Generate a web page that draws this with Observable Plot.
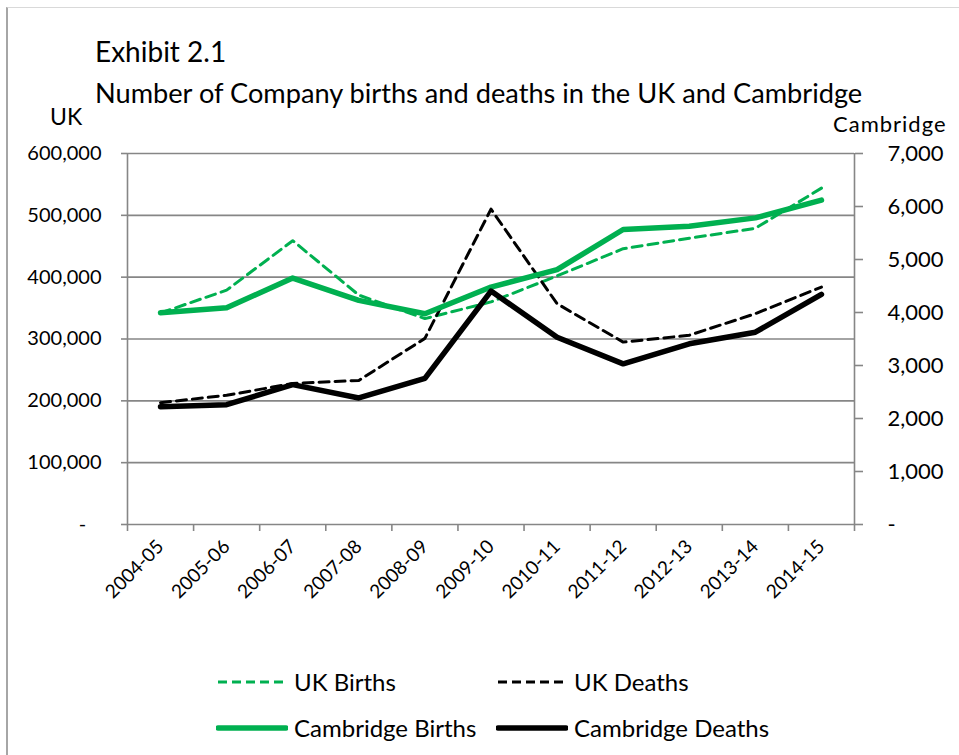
<!DOCTYPE html>
<html><head><meta charset="utf-8">
<script src="https://cdn.jsdelivr.net/npm/d3@7"></script>
<script src="https://cdn.jsdelivr.net/npm/@observablehq/plot@0.6"></script>
<style>
body{margin:0;background:#fff;font-family:Lato,"Open Sans",sans-serif;}
#wrap{position:relative;width:959px;height:755px;overflow:hidden;background:#fff;}
#frame{position:absolute;left:6px;top:7px;width:1000px;height:800px;border-left:2px solid #a6a6a6;border-top:1px solid #d9d9d9;}
.t{position:absolute;white-space:nowrap;line-height:1;color:#000;}
#chart{position:absolute;left:0;top:140px;}
.sw{position:absolute;width:72px;height:12px;}
</style></head><body>
<div id="wrap">
<div id="frame"></div>
<div class="t" style="left:95px;top:37px;font-size:28px">Exhibit 2.1</div>
<div class="t" style="left:95px;top:79px;font-size:27.2px">Number of Company births and deaths in the UK and Cambridge</div>
<div class="t" style="left:50px;top:105px;font-size:23px">UK</div>
<div class="t" style="left:833px;top:113px;font-size:22px;letter-spacing:1px">Cambridge</div>
<div id="chart"></div>
<div id="legend"></div>
</div>
<script>
const years = ["2004-05","2005-06","2006-07","2007-08","2008-09","2009-10","2010-11","2011-12","2012-13","2013-14","2014-15"];
const ukBirths = [342000,379000,459000,371000,333000,360000,402000,446000,463000,479000,544000];
const ukDeaths = [197000,209000,228000,233000,301000,510000,357000,295000,306000,341000,384000];
const camBirths = [3995,4090,4650,4228,3977,4480,4809,5566,5628,5785,6120];
const camDeaths = [2223,2261,2639,2387,2758,4404,3534,3031,3409,3628,4342];
const ukTicks = [0,100000,200000,300000,400000,500000,600000];
const camTicks = [0,1000,2000,3000,4000,5000,6000,7000];
const legendItems = [
  {label:"UK Births", color:"#00B050", width:3, dash:"9,5"},
  {label:"UK Deaths", color:"#000000", width:3, dash:"9,5"},
  {label:"Cambridge Births", color:"#00B050", width:5.5, dash:null},
  {label:"Cambridge Deaths", color:"#000000", width:5.5, dash:null}
];

const k = 600000 / 7000;
const idx = d3.range(years.length);
const bounds = d3.range(years.length + 1).map(i => i - 0.5);
const fmt = d3.format(",");
const grid = "#868686";

const plot = Plot.plot({
  width: 959, height: 500,
  marginTop: 13, marginBottom: 116, marginLeft: 127, marginRight: 105,
  style: {fontFamily: "Lato, sans-serif", background: "transparent", color: "#000"},
  x: {domain: [-0.5, years.length - 0.5]},
  y: {domain: [0, 600000]},
  marks: [
    Plot.ruleY(ukTicks, {stroke: grid, strokeWidth: 1.6}),
    Plot.ruleX([-0.5, years.length - 0.5], {stroke: grid, strokeWidth: 1.6}),
    Plot.axisY({ticks: ukTicks, tickSize: 6, tickPadding: 20, stroke: grid, strokeWidth: 1.6, fill: "#000", fontSize: 20, label: null,
      tickFormat: v => v === 0 ? "-\u00A0\u00A0\u00A0" : fmt(v)}),
    Plot.axisY({anchor: "right", ticks: camTicks.map(v => v * k), tickSize: 8, tickPadding: 25, stroke: grid, strokeWidth: 1.6, fill: "#000", fontSize: 22, label: null,
      style: {letterSpacing: "0.6px"},
      tickFormat: v => { const c = Math.round(v / k); return c === 0 ? "-" : fmt(c); }}),
    Plot.axisX({ticks: bounds, tickSize: 7, tickFormat: () => "", stroke: grid, strokeWidth: 1.6, label: null}),
    Plot.axisX({ticks: idx, tickSize: 0, tickPadding: 19, tickRotate: -45, tickFormat: i => years[i], fontSize: 19, fill: "#000", label: null}),
    Plot.lineY(idx, {x: i => i, y: i => ukBirths[i], stroke: "#00B050", strokeWidth: 3, strokeDasharray: "10,6"}),
    Plot.lineY(idx, {x: i => i, y: i => ukDeaths[i], stroke: "#000", strokeWidth: 3, strokeDasharray: "10,6"}),
    Plot.lineY(idx, {x: i => i, y: i => camBirths[i] * k, stroke: "#00B050", strokeWidth: 5.5}),
    Plot.lineY(idx, {x: i => i, y: i => camDeaths[i] * k, stroke: "#000", strokeWidth: 5.5})
  ]
});
document.getElementById("chart").appendChild(plot);

const legend = document.getElementById("legend");
const pos = [[216, 682], [496, 682], [216, 728], [496, 728]];
legendItems.forEach((it, i) => {
  const [lx, ly] = pos[i];
  const sw = document.createElementNS("http://www.w3.org/2000/svg", "svg");
  sw.setAttribute("class", "sw");
  sw.style.left = lx + "px"; sw.style.top = (ly - 6) + "px";
  sw.setAttribute("width", 72); sw.setAttribute("height", 12);
  const ln = document.createElementNS("http://www.w3.org/2000/svg", "line");
  ln.setAttribute("x1", 2); ln.setAttribute("x2", 70); ln.setAttribute("y1", 6); ln.setAttribute("y2", 6);
  ln.setAttribute("stroke", it.color); ln.setAttribute("stroke-width", it.width);
  ln.setAttribute("stroke-linecap", it.dash ? "butt" : "round");
  if (it.dash) ln.setAttribute("stroke-dasharray", it.dash);
  sw.appendChild(ln);
  legend.appendChild(sw);
  const tx = document.createElement("div");
  tx.className = "t";
  tx.style.left = (lx + 78) + "px"; tx.style.top = (ly + 9 - 0.887 * 24) + "px";
  tx.style.fontSize = "24px";
  tx.textContent = it.label;
  legend.appendChild(tx);
});
</script>
</body></html>
